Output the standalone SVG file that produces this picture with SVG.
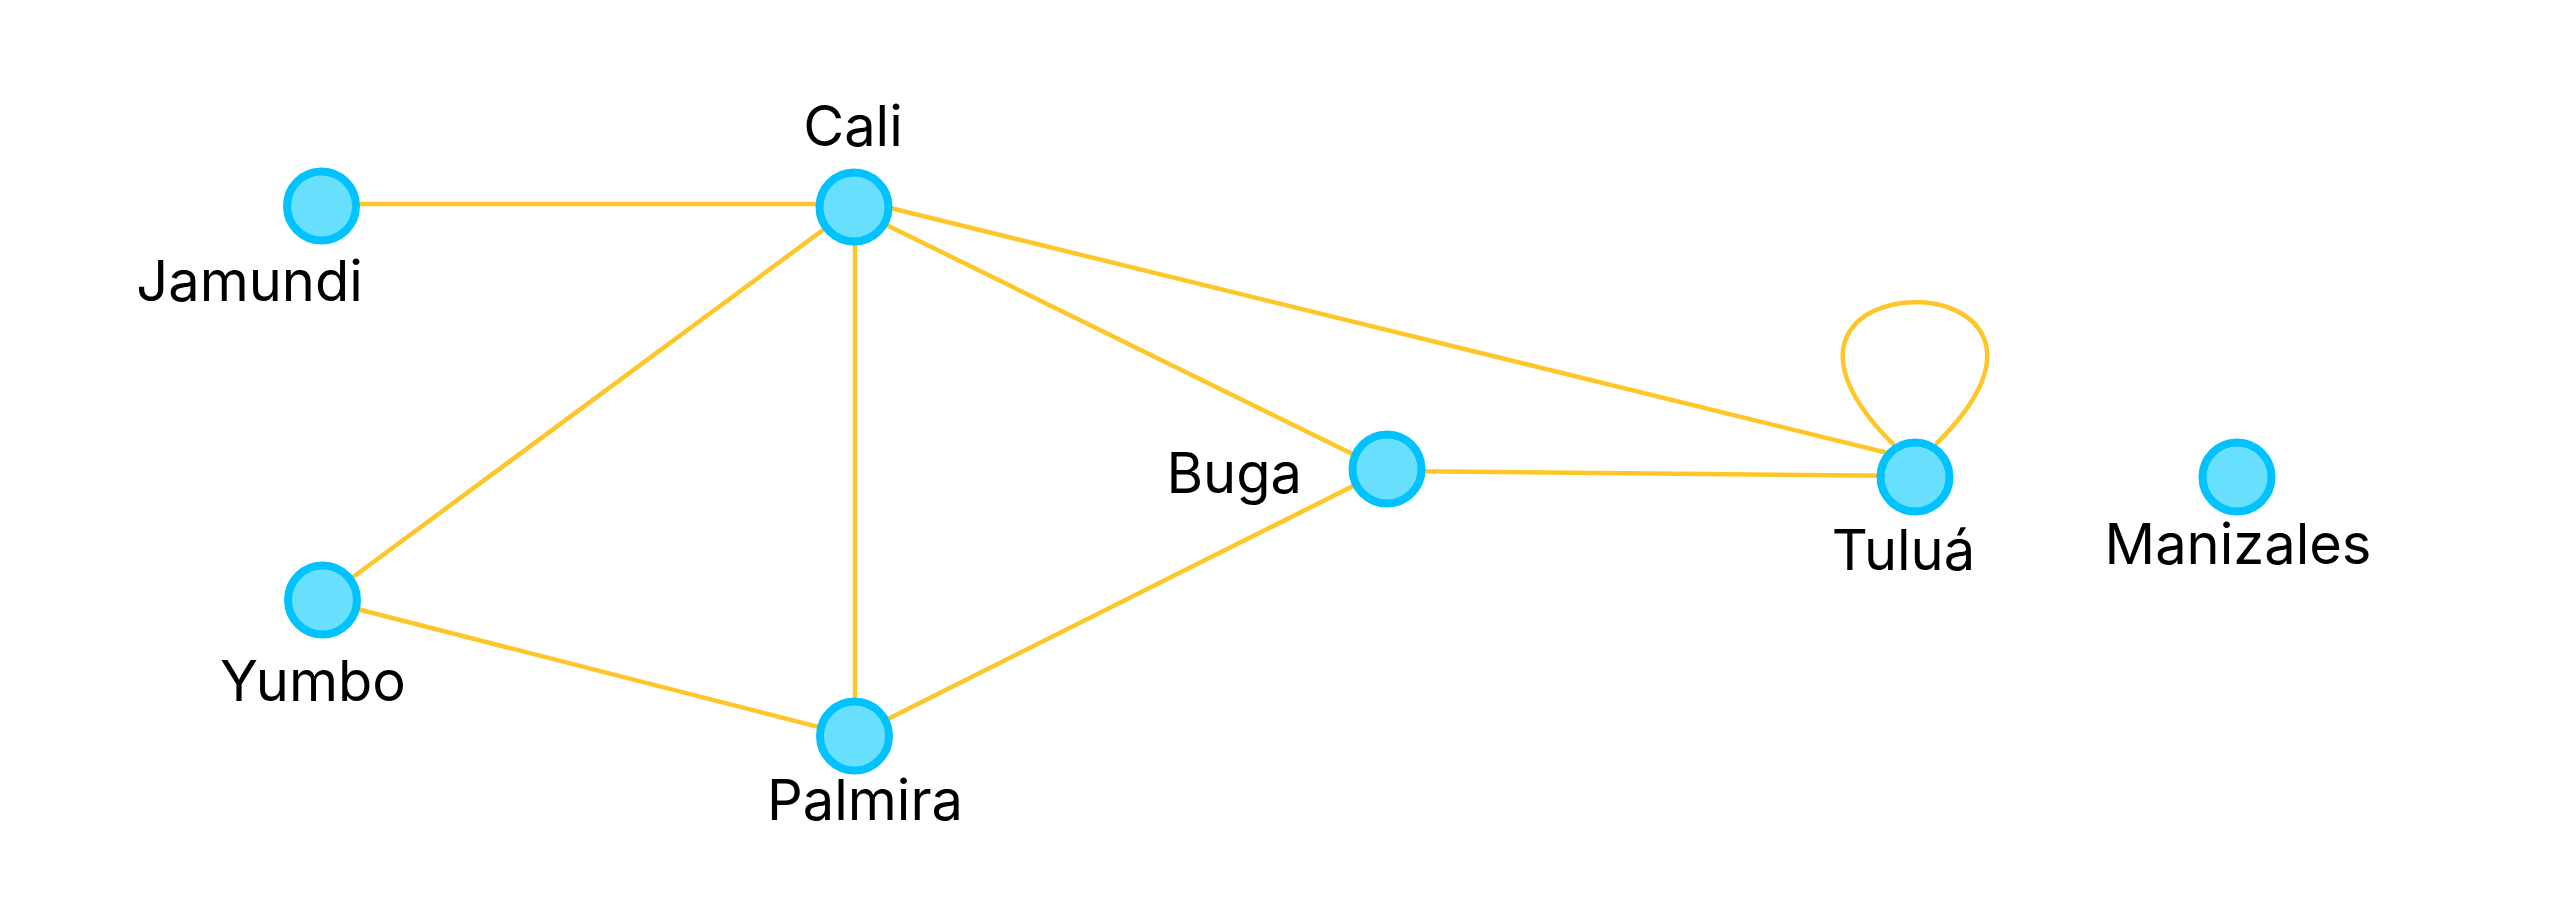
<svg xmlns="http://www.w3.org/2000/svg" width="2573" height="902" viewBox="0 0 2573 902">
<style>
.edge{stroke:#FFC629;stroke-width:4.5;fill:none;stroke-linecap:round}
.node{fill:#69DFFE;stroke:#00C2FF;stroke-width:8}
.label{font-family:Inter,"Liberation Sans",sans-serif;font-size:56px;fill:#000}
</style>
<rect width="2573" height="902" fill="#fff"/>
<g id="edges">
<line class="edge" x1="322" y1="204" x2="854" y2="204"/>
<line class="edge" x1="322" y1="600" x2="854" y2="207"/>
<line class="edge" x1="855" y1="207" x2="855" y2="736"/>
<line class="edge" x1="854" y1="209" x2="1387" y2="471"/>
<line class="edge" x1="870" y1="203" x2="1900" y2="456"/>
<line class="edge" x1="322" y1="600" x2="854" y2="736"/>
<line class="edge" x1="854" y1="736" x2="1387" y2="469"/>
<line class="edge" x1="1387" y1="471" x2="1915" y2="476"/>
<path class="edge" d="M1893,444 C1703,255 2127,255 1937,443"/>
</g>
<g id="node-jamundi"><circle class="node" cx="321.5" cy="206" r="34.5"/><text class="label" x="249.5" y="301" text-anchor="middle">Jamundi</text></g>
<g id="node-cali"><circle class="node" cx="854" cy="207" r="34.5"/><text class="label" x="853" y="146" text-anchor="middle">Cali</text></g>
<g id="node-yumbo"><circle class="node" cx="322.5" cy="600" r="34.5"/><text class="label" x="313" y="701" text-anchor="middle">Yumbo</text></g>
<g id="node-palmira"><circle class="node" cx="854.5" cy="736" r="34.5"/><text class="label" x="865" y="820" text-anchor="middle">Palmira</text></g>
<g id="node-buga"><circle class="node" cx="1387" cy="469" r="34.5"/><text class="label" x="1302" y="493" text-anchor="end">Buga</text></g>
<g id="node-tulua"><circle class="node" cx="1915" cy="477" r="34.5"/><text class="label" x="1903.5" y="570" text-anchor="middle">Tuluá</text></g>
<g id="node-manizales"><circle class="node" cx="2237" cy="477" r="34.5"/><text class="label" x="2238" y="564" text-anchor="middle">Manizales</text></g>
</svg>
